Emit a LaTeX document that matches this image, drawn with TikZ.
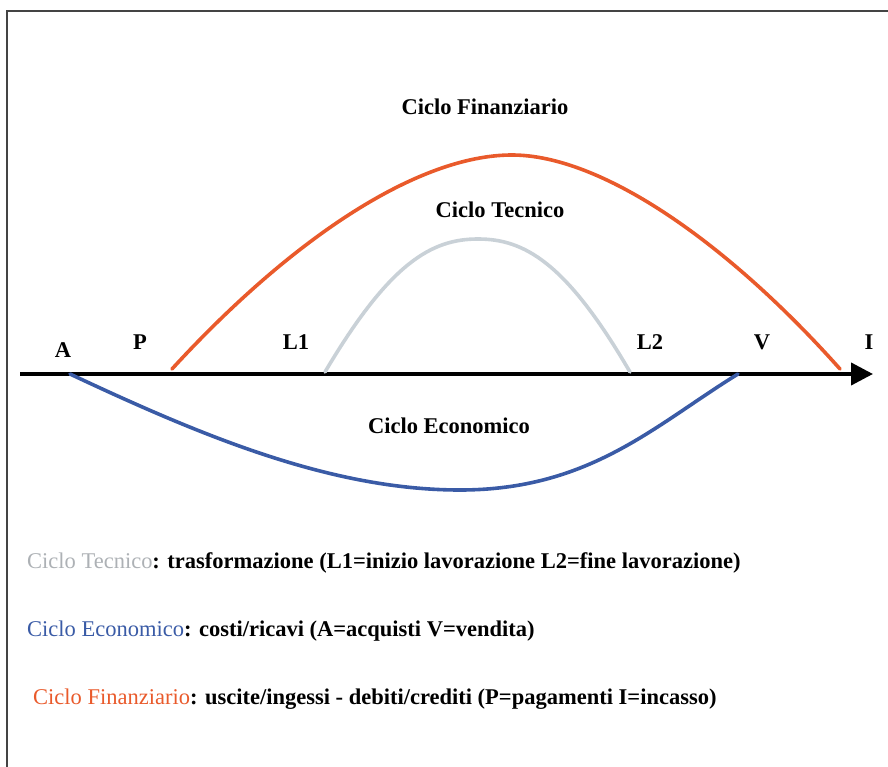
\documentclass[tikz,border=0pt]{standalone}
\usepackage{fontspec}
\setmainfont{Liberation Serif}
\usepackage{xcolor}
\usepackage{tikz}
\usetikzlibrary{arrows.meta}
\definecolor{frame}{HTML}{444444}
\definecolor{fin}{HTML}{E95A2B}
\definecolor{tec}{HTML}{C9D1D7}
\definecolor{tectxt}{HTML}{ADB1B5}
\definecolor{eco}{HTML}{3A5BA6}
\tikzset{
  axis/.style={draw=black, line width=4pt, -{Triangle[length=22pt,width=22pt]}},
  cyc/.style={line width=3.6pt, line cap=round},
  lab/.style={font=\fontsize{22.5}{26}\selectfont\bfseries, inner sep=0pt},
  leg/.style={lab, anchor=base west},
}

\begin{document}
\begin{tikzpicture}[x=1pt,y=-1pt]
  \useasboundingbox (0,0) rectangle (888,767);
  \draw[frame, line width=2pt] (7,767) -- (7,11.5) -- (888,11.5);
  % time axis
  \coordinate (ax0) at (20,374);
  \coordinate (ax1) at (873,374);
  \draw[axis] (ax0) -- (ax1);
  \node[lab] (A)  at (63,350)    {A};
  \node[lab] (P)  at (140,342.5) {P};
  \node[lab] (L1) at (296,342.5) {L1};
  \node[lab] (L2) at (650,342.5) {L2};
  \node[lab] (V)  at (762,342.5) {V};
  \node[lab] (I)  at (869,342.5) {I};
  % the three cycles
  \draw[cyc, fin] (172,369) .. controls (295,235) and (420,155) .. (512,155)
                  .. controls (600,155) and (725,240) .. (840,369);
  \draw[cyc, tec] (325,372) .. controls (390,262) and (432,239) .. (478,239)
                  .. controls (524,239) and (566,262) .. (630,372);
  \draw[cyc, eco] (70,374) .. controls (200,435) and (330,490) .. (460,490)
                  .. controls (590,490) and (655,425) .. (738,374);
  \node[lab] (fin) at (485,106.5) {Ciclo Finanziario};
  \node[lab] (tec) at (500,209.5) {Ciclo Tecnico};
  \node[lab] (eco) at (449,426)   {Ciclo Economico};
  % legend
  \node[leg] (legT) at (27,568) {\textcolor{tectxt}{\mdseries Ciclo Tecnico}: trasformazione (L1=inizio lavorazione L2=fine lavorazione)};
  \node[leg] (legE) at (27,636) {\textcolor{eco}{\mdseries Ciclo Economico}: costi/ricavi (A=acquisti V=vendita)};
  \node[leg] (legF) at (33,704) {\textcolor{fin}{\mdseries Ciclo Finanziario}: uscite/ingessi - debiti/crediti (P=pagamenti I=incasso)};
\end{tikzpicture}
\end{document}
